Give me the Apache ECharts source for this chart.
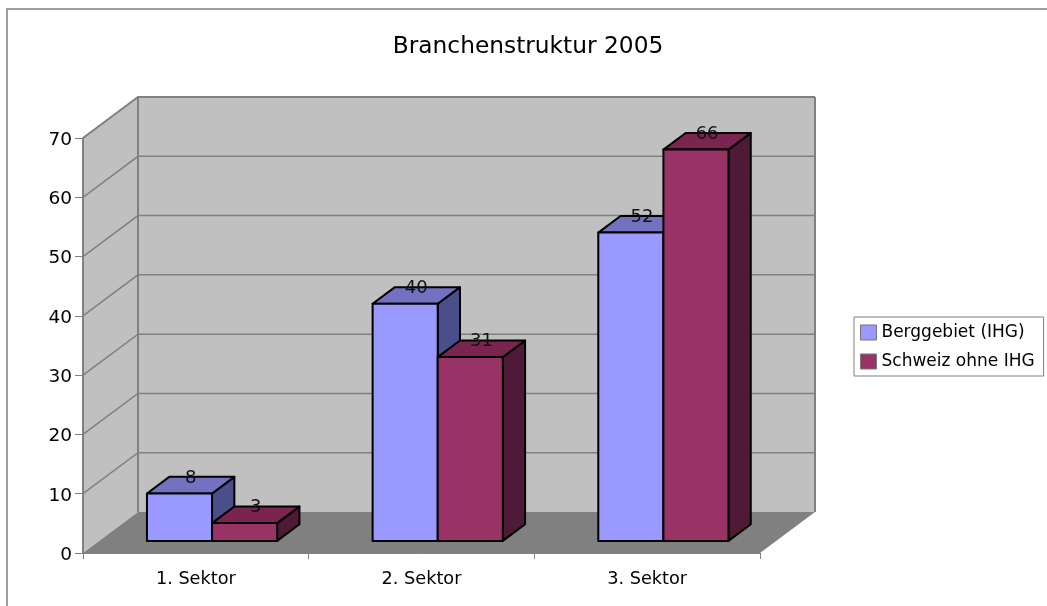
<!DOCTYPE html>
<html>
<head>
<meta charset="utf-8">
<script src="https://cdn.jsdelivr.net/npm/echarts@6/dist/echarts.min.js"></script>
<style>
html,body{margin:0;padding:0;background:#fff}
#chart{width:1047px;height:606px}
</style>
</head>
<body>
<div id="chart"></div>
<script>
var titleText = 'Branchenstruktur 2005';
var categories = ['1. Sektor', '2. Sektor', '3. Sektor'];
var seriesNames = ['Berggebiet (IHG)', 'Schweiz ohne IHG'];
var bergValues = [8, 40, 52];
var schweizValues = [3, 31, 66];
var yTicks = [0, 10, 20, 30, 40, 50, 60, 70];

var FONT = '"DejaVu Sans"';
var GREY = '#808080';
// shift of the back wall against the front plane, in px
var DEPTH_X = 55, DEPTH_Y = 41;
// the bars stand inside the depth, from 30% to 70%
var BAR_NEAR = 0.295, BAR_FAR = 0.70;

var chart = echarts.init(document.getElementById('chart'), null, {renderer: 'canvas'});

function poly(points, fill, stroke, width) {
  return {
    type: 'polygon',
    shape: {points: points},
    style: {fill: fill, stroke: stroke || null, lineWidth: width || 0, lineJoin: 'round'}
  };
}

function line(points, width) {
  return {
    type: 'polyline',
    shape: {points: points},
    style: {fill: null, stroke: GREY, lineWidth: width}
  };
}

// side wall, back wall and floor
function renderWalls(params, api) {
  var a = api.coord([0, 0]);
  var b = api.coord([0, 70]);
  var left = params.coordSys.x, right = left + params.coordSys.width;
  return {
    type: 'group',
    children: [
      poly([[left, a[1]], [left + DEPTH_X, a[1] - DEPTH_Y], [left + DEPTH_X, b[1] - DEPTH_Y], [left, b[1]]], '#c0c0c0'),
      poly([[left + DEPTH_X, a[1] - DEPTH_Y], [right + DEPTH_X, a[1] - DEPTH_Y], [right + DEPTH_X, b[1] - DEPTH_Y], [left + DEPTH_X, b[1] - DEPTH_Y]], '#c0c0c0'),
      poly([[left, a[1]], [left + DEPTH_X, a[1] - DEPTH_Y], [right + DEPTH_X, a[1] - DEPTH_Y], [right, a[1]]], GREY),
      line([[right + DEPTH_X, a[1] - DEPTH_Y], [right + DEPTH_X, b[1] - DEPTH_Y]], 2),
      line([[left + DEPTH_X, a[1] - DEPTH_Y], [left + DEPTH_X, b[1] - DEPTH_Y]], 2),
      line([[left, a[1]], [left, b[1]]], 2)
    ]
  };
}

// one grid line per tick, round the side wall and along the back wall
function renderGridLine(params, api) {
  var v = api.value(0);
  var y = api.coord([0, v])[1];
  var left = params.coordSys.x, right = left + params.coordSys.width;
  var top = v === 70;
  return line([[left, y], [left + DEPTH_X, y - DEPTH_Y], [right + DEPTH_X, y - DEPTH_Y]], top ? 2 : 1.5);
}

function barRenderer(offset, front, topFace, sideFace) {
  return function (params, api) {
    var idx = api.value(0);
    var val = api.value(1);
    var center = api.coord([idx, 0]);
    var head = api.coord([idx, val]);
    var barW = api.size([1, 0])[0] * 0.2885;
    var nx = DEPTH_X * BAR_NEAR, ny = DEPTH_Y * BAR_NEAR;
    var dx = DEPTH_X * (BAR_FAR - BAR_NEAR), dy = DEPTH_Y * (BAR_FAR - BAR_NEAR);
    var x0 = center[0] + nx + offset * barW;
    var x1 = x0 + barW;
    var y0 = center[1] - ny;
    var y1 = head[1] - ny;
    return {
      type: 'group',
      children: [
        poly([[x1, y0], [x1 + dx, y0 - dy], [x1 + dx, y1 - dy], [x1, y1]], sideFace, '#000', 2),
        poly([[x0, y1], [x0 + dx, y1 - dy], [x1 + dx, y1 - dy], [x1, y1]], topFace, '#000', 2),
        poly([[x0, y0], [x1, y0], [x1, y1], [x0, y1]], front, '#000', 2),
        {
          type: 'text',
          z2: 10,
          style: {
            x: (x0 + x1 + dx) / 2,
            y: y1 - dy + 1,
            text: String(val),
            align: 'center',
            verticalAlign: 'middle',
            font: '18px ' + FONT,
            fill: '#111'
          }
        }
      ]
    };
  };
}

function pairs(values) {
  return values.map(function (v, i) { return [i, v]; });
}

var option = {
  animation: false,
  backgroundColor: '#fff',
  title: {
    text: titleText,
    left: 523,
    top: 30,
    textAlign: 'center',
    textStyle: {fontFamily: FONT, fontSize: 23.3, fontWeight: 'normal', color: '#000'}
  },
  // frame of the chart area, open to the right and at the bottom
  graphic: [{
    type: 'polyline',
    silent: true,
    shape: {points: [[7, 606], [7, 9], [1047, 9]]},
    style: {fill: null, stroke: GREY, lineWidth: 1.5}
  }],
  legend: {
    data: seriesNames,
    orient: 'vertical',
    left: 854,
    top: 317,
    padding: [7, 9, 6, 6],
    itemGap: 12,
    itemWidth: 16,
    itemHeight: 15,
    icon: 'rect',
    borderColor: GREY,
    borderWidth: 1,
    selectedMode: false,
    itemStyle: {borderColor: '#777', borderWidth: 1},
    textStyle: {fontFamily: FONT, fontSize: 17, lineHeight: 15, color: '#000'}
  },
  grid: {left: 83, right: 287, top: 138, height: 415, containLabel: false},
  xAxis: {
    type: 'category',
    data: categories,
    boundaryGap: true,
    axisLine: {lineStyle: {color: GREY, width: 1}},
    axisTick: {show: true, length: 6, lineStyle: {color: GREY}},
    axisLabel: {fontFamily: FONT, fontSize: 17.7, color: '#000', margin: 17},
    splitLine: {show: false}
  },
  yAxis: {
    type: 'value',
    min: 0,
    max: 70,
    interval: 10,
    axisLine: {show: true, lineStyle: {color: GREY, width: 2}},
    axisTick: {show: true, length: 8, lineStyle: {color: GREY}},
    // top aligned in a 4px line box puts the digits 2px under the tick
    axisLabel: {fontFamily: FONT, fontSize: 18.5, color: '#000', margin: 11, verticalAlign: 'top', lineHeight: 4},
    splitLine: {show: false}
  },
  series: [
    {
      type: 'custom',
      name: 'walls',
      silent: true,
      z: 1,
      clip: false,
      renderItem: renderWalls,
      data: [[0]],
      encode: {x: -1, y: -1}
    },
    {
      type: 'custom',
      name: 'gridLines',
      silent: true,
      z: 2,
      clip: false,
      renderItem: renderGridLine,
      data: yTicks.slice(1).map(function (v) { return [v]; }),
      encode: {x: -1, y: 0}
    },
    {
      type: 'custom',
      name: seriesNames[0],
      z: 3,
      clip: false,
      itemStyle: {color: '#9999ff'},
      renderItem: barRenderer(-1, '#9999ff', '#7272c0', '#4a4f8c'),
      data: pairs(bergValues),
      encode: {x: 0, y: 1}
    },
    {
      type: 'custom',
      name: seriesNames[1],
      z: 4,
      clip: false,
      itemStyle: {color: '#993366'},
      renderItem: barRenderer(0, '#993366', '#79254f', '#4f1a38'),
      data: pairs(schweizValues),
      encode: {x: 0, y: 1}
    }
  ]
};

chart.setOption(option);
</script>
</body>
</html>
